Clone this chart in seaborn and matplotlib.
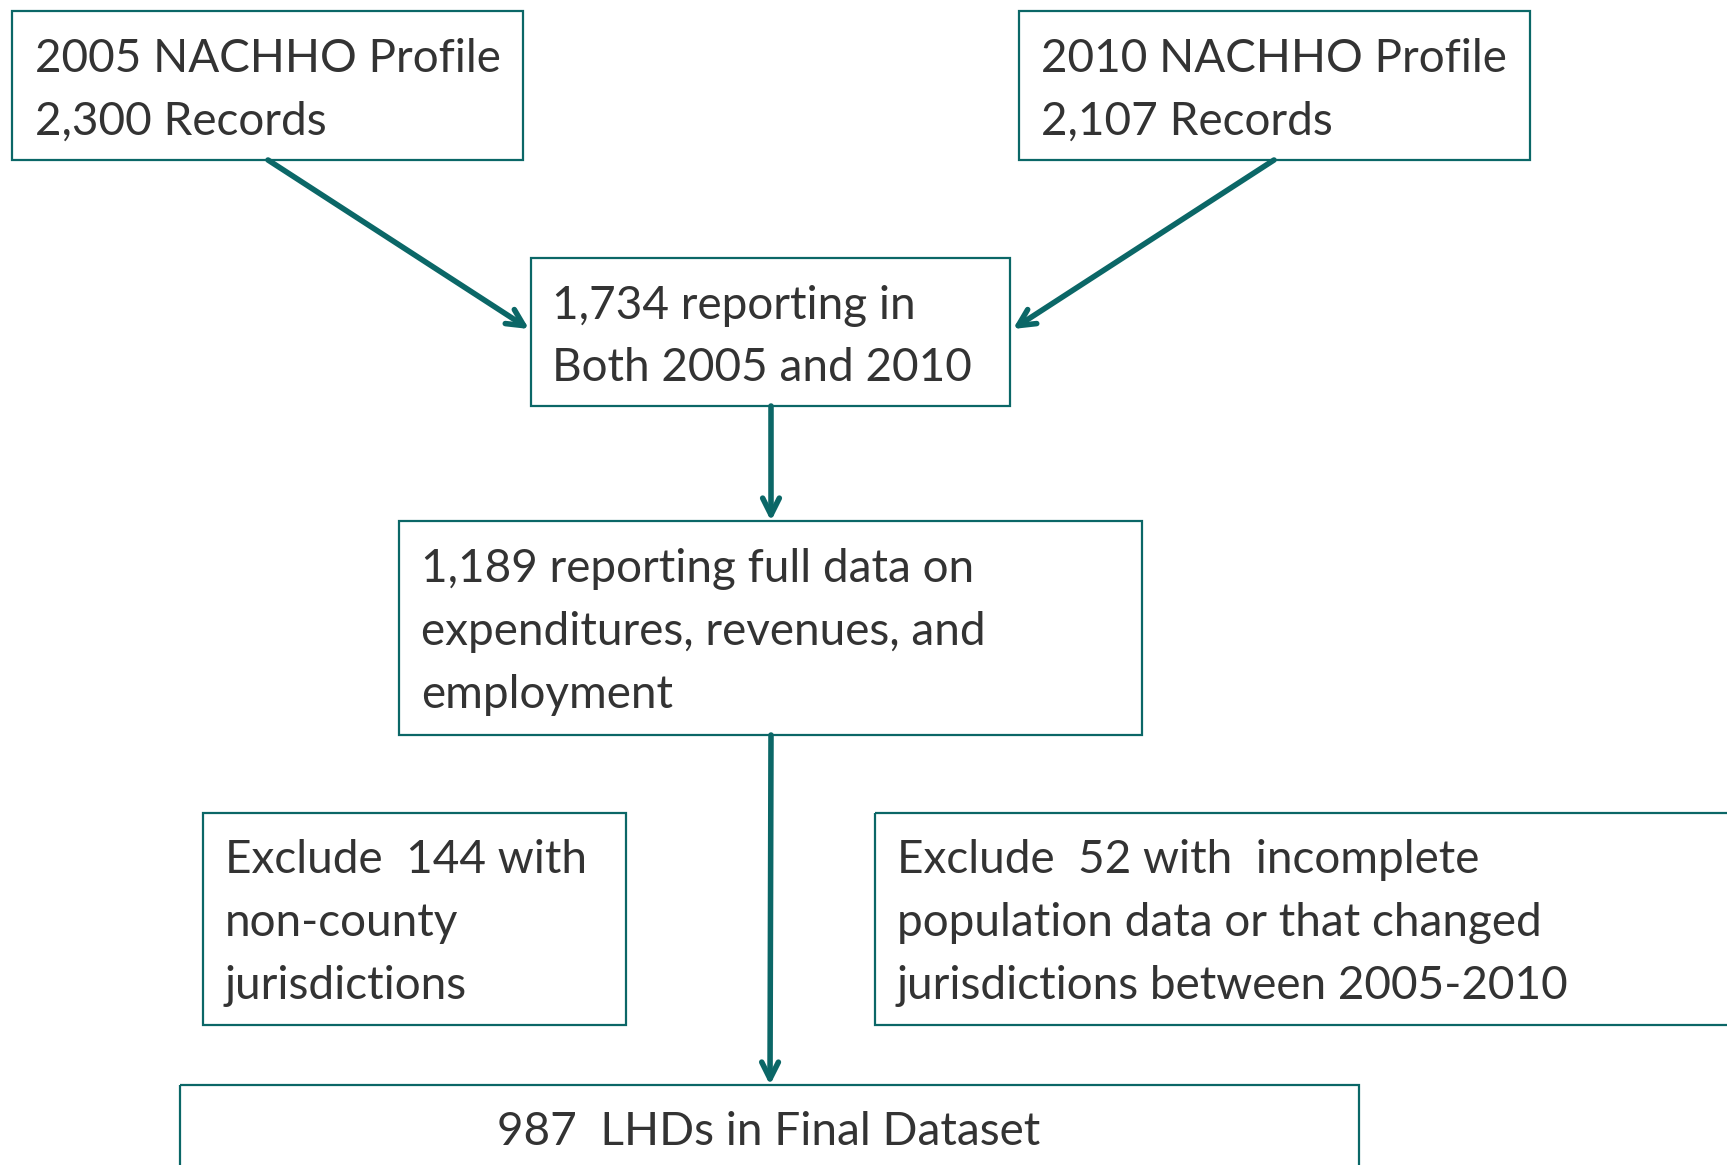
import matplotlib
matplotlib.use("Agg")
import matplotlib.pyplot as plt
from matplotlib.patches import Rectangle
import seaborn as sns

# ---- content ----
box_texts = [
    "2005 NACHHO Profile\n2,300 Records",
    "2010 NACHHO Profile\n2,107 Records",
    "1,734 reporting in\nBoth 2005 and 2010",
    "1,189 reporting full data on\nexpenditures, revenues, and\nemployment",
    "Exclude  144 with\nnon-county\njurisdictions",
    "Exclude  52 with  incomplete\npopulation data or that changed\njurisdictions between 2005-2010",
    "987  LHDs in Final Dataset",
]
# ---- layout (pixel space of a 1727x1165 canvas) ----
box_x0 = [12, 1019, 531, 399, 203, 875, 180]
box_x1 = [523, 1530, 1010, 1142, 626, 1745, 1359]
box_y0 = [11, 11, 258, 521, 813, 813, 1085]
box_y1 = [160, 160, 406, 735, 1025, 1025, 1200]
text_x = [35, 1041, 552, 421, 225, 897, 769]
text_yc = [90, 90, 337, 632, 923, 923, 1132]
text_ha = ["left"] * 6 + ["center"]

arrow_from = [(268, 160), (1274, 160), (771, 406), (771, 735)]
arrow_to = [(529, 329), (1013, 329), (771, 521), (770, 1085)]

teal = "#0b6767"
txt_col = "#333333"

sns.set_theme(style="white")
plt.rcParams["font.family"] = ["Lato", "DejaVu Sans"]

fig = plt.figure(figsize=(17.27, 11.65), dpi=100)
ax = fig.add_axes([0, 0, 1, 1])
ax.set_xlim(0, 1727)
ax.set_ylim(1165, 0)
ax.axis("off")

for t, x0, x1, y0, y1, tx, ty, ha in zip(box_texts, box_x0, box_x1, box_y0, box_y1,
                                          text_x, text_yc, text_ha):
    ax.add_patch(Rectangle((x0, y0), x1 - x0, y1 - y0, fill=False,
                           edgecolor=teal, linewidth=1.6, clip_on=False))
    ax.text(tx, ty, t, ha=ha, va="center", fontsize=33, color=txt_col,
            linespacing=1.61)

for (xa, ya), (xb, yb) in zip(arrow_from, arrow_to):
    ax.annotate("", xy=(xb, yb), xytext=(xa, ya),
                arrowprops=dict(arrowstyle="->,head_length=1.0,head_width=0.5",
                                color=teal, lw=4, shrinkA=0, shrinkB=0))

fig.savefig("out.png", dpi=100)
